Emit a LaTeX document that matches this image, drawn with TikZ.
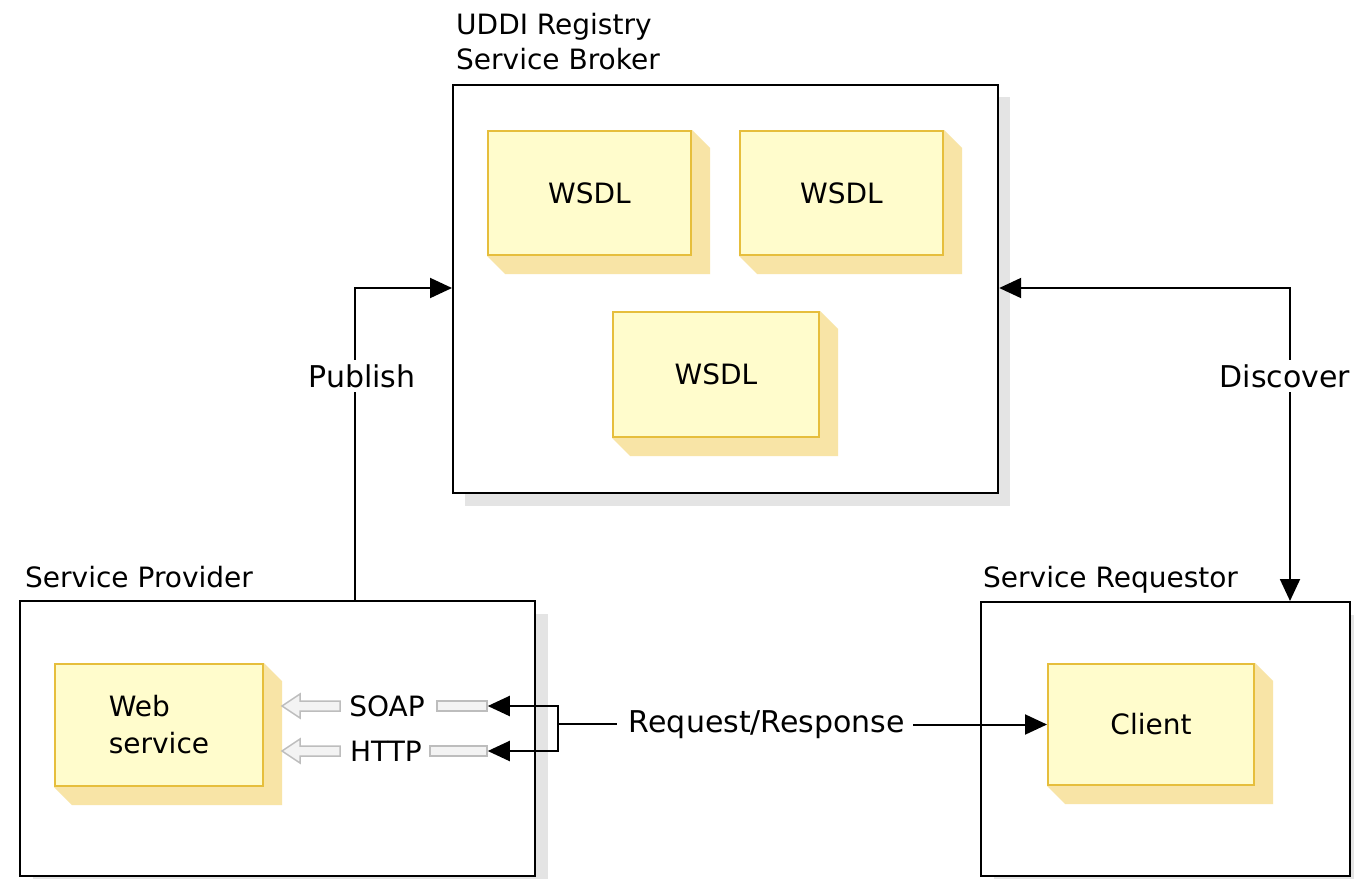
\documentclass[tikz,border=0pt]{standalone}
\usepackage{fontspec}
\setmainfont{DejaVu Sans}
\usetikzlibrary{arrows.meta}
\definecolor{wsfill}{HTML}{FFFCCC}
\definecolor{wsedge}{HTML}{E6BE3C}
\definecolor{wsside}{HTML}{F8E4A6}
\definecolor{shadowgray}{HTML}{E4E4E4}
\definecolor{hollowedge}{HTML}{BDBDBD}
\definecolor{hollowfill}{HTML}{F3F3F3}
\pgfdeclarelayer{bg}
\pgfdeclarelayer{mid}
\pgfsetlayers{bg,mid,main}
\newcommand{\extrudebox}[1]{%
  \fill[wsside] (#1.north east) -- ([shift={(18,18)}]#1.north east) -- ([shift={(18,18)}]#1.south east)
    -- ([shift={(18,18)}]#1.south west) -- (#1.south west) -- (#1.south east) -- cycle;}
\begin{document}
\begin{tikzpicture}[x=1pt,y=-1pt, font=\fontsize{28}{37}\selectfont,
  container/.style={draw=black, line width=2.2pt, fill=white, inner sep=0pt, anchor=north west},
  artifact/.style={draw=wsedge, line width=2pt, fill=wsfill, inner sep=0pt, anchor=north west},
  lbl/.style={inner sep=0pt, anchor=base west},
  bar/.style={draw=hollowedge, line width=1.5pt, fill=hollowfill, inner sep=0pt},
  hollow/.style={draw=hollowedge, line width=1.5pt, fill=hollowfill, line join=miter},
  arr/.style={line width=2pt, -{Triangle[length=22pt,width=20pt]}},
  darr/.style={line width=2pt, {Triangle[length=22pt,width=20pt]}-{Triangle[length=22pt,width=20pt]}},
  conn/.style={line width=2pt}]
\useasboundingbox (0,0) rectangle (1354,878);

% containers with shadows
\begin{pgfonlayer}{bg}
  \fill[shadowgray] (465,97) rectangle (1010,506);
  \fill[shadowgray] (33,614) rectangle (548,889);
  \fill[shadowgray] (994,615) rectangle (1363,889);
  \node[container, minimum width=545pt, minimum height=408pt] (broker) at (452,84) {};
  \node[container, minimum width=515pt, minimum height=275pt] (provider) at (19,600) {};
  \node[container, minimum width=369pt, minimum height=274pt] (requestor) at (980,601) {};
\end{pgfonlayer}

% titles
\node[lbl] (t1) at (456,34) {UDDI Registry};
\node[lbl] (t2) at (456,69) {Service Broker};
\node[lbl] (t3) at (25,587) {Service Provider};
\node[lbl] (t4) at (983,587) {Service Requestor};

% artifacts
\node[artifact, minimum width=203pt, minimum height=124pt] (w1) at (487,130) {WSDL};
\node[artifact, minimum width=203pt, minimum height=124pt] (w2) at (739,130) {WSDL};
\node[artifact, minimum width=206pt, minimum height=125pt] (w3) at (612,311) {WSDL};
\node[artifact, minimum width=208pt, minimum height=122pt, align=left] (websvc) at (54,663) {Web\\service};
\node[artifact, minimum width=206pt, minimum height=121pt] (client) at (1047,663) {Client};

\begin{pgfonlayer}{mid}
  \extrudebox{w1}
  \extrudebox{w2}
  \extrudebox{w3}
  \extrudebox{websvc}
  \extrudebox{client}
\end{pgfonlayer}

% SOAP / HTTP
\node[inner sep=0pt] (soap) at (387,706) {SOAP};
\node[inner sep=0pt] (http) at (386,751) {HTTP};
\node[bar, minimum width=50pt, minimum height=10pt] (soapbar) at (462,706) {};
\node[bar, minimum width=57pt, minimum height=10pt] (httpbar) at (458.5,751) {};
\draw[hollow] (282,706) -- (300,694) -- (300,701) -- (340,701) -- (340,711) -- (300,711) -- (300,718) -- cycle;
\draw[hollow] (282,751) -- (300,739) -- (300,746) -- (340,746) -- (340,756) -- (300,756) -- (300,763) -- cycle;

% Request/Response
\coordinate (br) at (558,723.5);
\node[inner sep=0pt, font=\fontsize{30}{37}\selectfont] (reqresp) at (767,725) {Request/Response};
\draw[arr] (br) |- (soapbar.east);
\draw[arr] (br) |- (httpbar.east);
\draw[conn] (br) -- ([xshift=-12pt]reqresp.west |- br);
\draw[arr] ([xshift=8pt]reqresp.east |- client.west) -- (client.west);

% Publish
\coordinate (pubbend) at (355,288);
\draw[arr] (provider.north -| pubbend) -- (pubbend) -- (broker.west |- pubbend);
\node[fill=white, inner sep=4pt, font=\fontsize{30}{37}\selectfont] (publish) at (362,376) {Publish};

% Discover
\coordinate (discbend) at (1290,288);
\draw[darr] (broker.east |- discbend) -- (discbend) -- (discbend |- requestor.north);
\node[fill=white, inner sep=4pt, font=\fontsize{30}{37}\selectfont] (discover) at (1285,376) {Discover};
\end{tikzpicture}
\end{document}
